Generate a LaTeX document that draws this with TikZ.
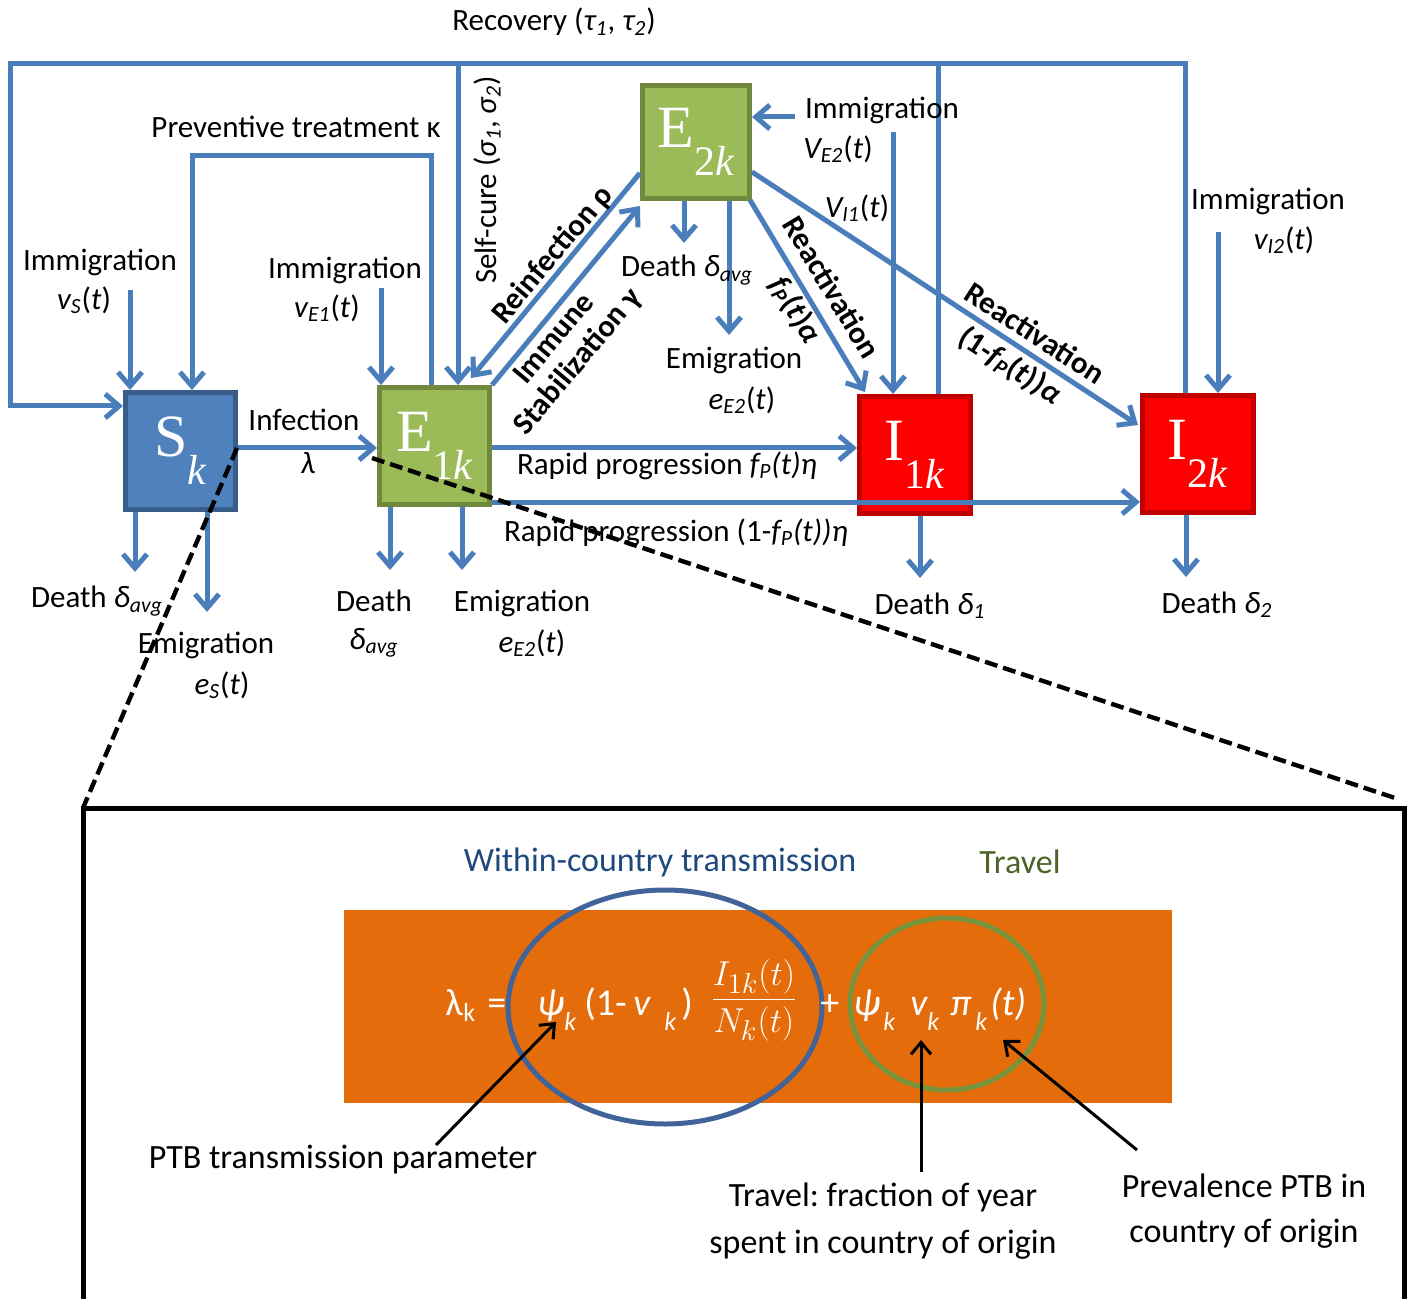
\documentclass[tikz,border=0pt]{standalone}
\usepackage{fontspec}
\setmainfont{Carlito}
\newfontfamily\boxfont{Liberation Serif}
\usetikzlibrary{arrows.meta,calc}
\frenchspacing

\definecolor{flowblue}{HTML}{4A7EBB}
\definecolor{sfill}{HTML}{4F81BD}
\definecolor{sline}{HTML}{385D8A}
\definecolor{efill}{HTML}{9BBB59}
\definecolor{eline}{HTML}{71893F}
\definecolor{ifill}{HTML}{FF0000}
\definecolor{iline}{HTML}{C00000}
\definecolor{panelorange}{HTML}{E46C0A}
\definecolor{ellblue}{HTML}{40649A}
\definecolor{ellgreen}{HTML}{77933C}
\definecolor{titleblue}{HTML}{1F497D}
\definecolor{titlegreen}{HTML}{4F6228}

\begin{document}
\begin{tikzpicture}[x=0.5pt,y=-0.5pt,
  flow/.style={draw=flowblue,line width=2.5pt,-{Straight Barb[length=7pt,width=12pt]}},
  link/.style={draw=flowblue,line width=2.5pt},
  comp/.style={draw,line width=2.5pt,inner sep=0pt,text=white,
    font=\boxfont\fontsize{30}{30}\selectfont},
  sbox/.style={comp,fill=sfill,draw=sline,minimum width=55pt,minimum height=58.5pt},
  ebox/.style={comp,fill=efill,draw=eline,minimum width=55pt,minimum height=58.5pt},
  ibox/.style={comp,fill=ifill,draw=iline,minimum width=55.5pt,minimum height=58.5pt},
  lbl/.style={inner sep=1pt,font=\fontsize{15.5}{18}\selectfont},
  blbl/.style={inner sep=1pt,font=\fontsize{15.5}{18}\selectfont\bfseries},
  big/.style={inner sep=1pt,font=\fontsize{17}{20}\selectfont},
  fw/.style={inner sep=0pt,anchor=base west,text=white,font=\fontsize{19}{22}\selectfont},
  fs/.style={inner sep=0pt,anchor=base west,text=white,font=\fontsize{13}{15}\selectfont\itshape},
  pointer/.style={draw=black,line width=1.5pt,-{Straight Barb[length=6pt,width=10pt]}},
  zoomline/.style={draw=black,line width=2.2pt,dash pattern=on 6.5pt off 3pt},
]
\fill[white] (0,0) rectangle (1408,1299);
\useasboundingbox (0,0) rectangle (1408,1299);

% compartments
\newcommand\subk[2]{#1\raisebox{-14pt}{\fontsize{21}{21}\selectfont #2}}
\node[sbox] (S)  at (180.5,451) {\subk{S}{\textit{k}}};
\node[ebox] (E1) at (434.5,446) {\subk{E}{1\textit{k}}};
\node[ebox,minimum width=53.5pt,minimum height=56.5pt] (E2) at (696,142) {\subk{E}{2\textit{k}}};
\node[ibox] (I1) at (915,455) {\subk{I}{1\textit{k}}};
\node[ibox] (I2) at (1198,454) {\subk{I}{2\textit{k}}};

% free ends of inflows and outflows
\coordinate (rtop) at (10,64);
\coordinate (rjoin) at (938,64);
\coordinate (scure) at (458,64);
\coordinate (ptc) at (192,156);
\coordinate (inS) at (130,290);
\coordinate (inE1) at (381,288);
\coordinate (inE2) at (795,117);
\coordinate (inI1) at (893,132);
\coordinate (inI2) at (1218,232);
\coordinate (outSd) at (135,572);
\coordinate (outSe) at (207,612);
\coordinate (outE1d) at (390,570);
\coordinate (outE1e) at (462,570);
\coordinate (outE2d) at (684,243);
\coordinate (outE2e) at (729,335);
\coordinate (outI1d) at (920,578);
\coordinate (outI2d) at (1186,577);

% recovery and self-cure
\draw[flow] ($(I1.north)+(23,0)$) |- (rtop) |- ($(S.west)+(0,-45)$);
\draw[link] ($(I2.north)+(-13,0)$) |- (rjoin);
\draw[flow] (scure) -- ($(E1.north)+(23.5,0)$);
% preventive treatment
\draw[flow] ($(E1.north)+(-3.5,0)$) |- (ptc) -- ($(S.north)+(11.5,0)$);

% immigration
\draw[flow] (inS) -- (inS |- S.north);
\draw[flow] (inE1) -- (inE1 |- E1.north);
\draw[flow] (inE2) -- (inE2 -| E2.east);
\draw[flow] (inI1) -- (inI1 |- I1.north);
\draw[flow] (inI2) -- (inI2 |- I2.north);

% transitions
\draw[flow] ($(S.east)+(0,-3)$) -- ($(E1.west)+(0,2)$);
\draw[flow] ($(E2.west)+(0,31)$) -- ($(E1.north east)+(-21,-7)$);
\draw[flow] (E1.north east) -- ($(E2.south west)+(0,5)$);
\draw[flow] ($(E2.south east)+(-2,-1)$) -- ($(I1.north west)+(8,-2)$);
\draw[flow] ($(E2.east)+(0,30)$) -- ($(I2.west)+(-2,-29)$);
\draw[flow] ($(E1.east)+(0,2)$) -- ($(I1.west)+(0,-7)$);
\draw[flow] ($(E1.east)+(0,56)$) -- ($(I2.west)+(0,48)$);

% deaths and emigration
\draw[flow] (outSd |- S.south) -- (outSd);
\draw[flow] (outSe |- S.south) -- (outSe);
\draw[flow] (outE1d |- E1.south) -- (outE1d);
\draw[flow] (outE1e |- E1.south) -- (outE1e);
\draw[flow] (outE2d |- E2.south) -- (outE2d);
\draw[flow] (outE2e |- E2.south) -- (outE2e);
\draw[flow] (outI1d |- I1.south) -- (outI1d);
\draw[flow] (outI2d |- I2.south) -- (outI2d);

% labels of the flows
\node[lbl] (recov) at (554,22) {Recovery (\textit{τ\textsubscript{1}}, \textit{τ\textsubscript{2}})};
\node[lbl] (prev) at (296,127) {Preventive treatment κ};
\node[lbl,rotate=90] (selfc) at (487,180) {Self-cure (\textit{σ\textsubscript{1}}, \textit{σ\textsubscript{2}})};
\node[lbl] (imSa) at (100,262) {Immigration};
\node[lbl] (imSb) at (84,300) {\textit{v\textsubscript{S}}(\textit{t})};
\node[lbl] (imE1a) at (345,270) {Immigration};
\node[lbl] (imE1b) at (327,308) {\textit{v\textsubscript{E1}}(\textit{t})};
\node[lbl] (infa) at (304,420) {Infection};
\node[lbl] (infb) at (308,463) {\textit{λ}};
\node[blbl,rotate=50] (reinf) at (553,255) {Reinfection ρ};
\node[blbl,rotate=50] (immu) at (553,338) {Immune};
\node[blbl,rotate=50] (stab) at (578,362) {Stabilization γ};
\node[lbl] (dE2) at (687,270) {Death \textit{δ\textsubscript{avg}}};
\node[lbl] (emE2a) at (734,360) {Emigration};
\node[lbl] (emE2b) at (742,400) {\textit{e\textsubscript{E2}}(\textit{t})};
\node[lbl] (imE2a) at (882,110) {Immigration};
\node[lbl] (imE2b) at (838,149) {\textit{V\textsubscript{E2}}(\textit{t})};
\node[lbl] (imI1) at (857,208) {\textit{V\textsubscript{I1}}(\textit{t})};
\node[blbl,rotate=-59] (reac1a) at (832,287) {Reactivation};
\node[blbl,rotate=-59] (reac1b) at (795,310) {\textit{f\textsubscript{P}}(\textit{t})\textit{α}};
\node[blbl,rotate=-33] (reac2a) at (1035,333) {Reactivation};
\node[blbl,rotate=-33] (reac2b) at (1010,366) {(1-\textit{f\textsubscript{P}}(\textit{t}))\textit{α}};
\node[lbl] (imI2a) at (1268,201) {Immigration};
\node[lbl] (imI2b) at (1284,240) {\textit{v\textsubscript{I2}}(\textit{t})};
\node[lbl] (rp1) at (667,466) {Rapid progression \textit{f\textsubscript{P}(t)η}};
\node[lbl] (rp2) at (676,533) {Rapid progression (1-\textit{f\textsubscript{P}(t))η}};
\node[lbl] (dS) at (97,601) {Death \textit{δ\textsubscript{avg}}};
\node[lbl] (emSa) at (206,645) {Emigration};
\node[lbl] (emSb) at (222,685) {\textit{e\textsubscript{S}}(\textit{t})};
\node[lbl] (dE1a) at (374,601) {Death};
\node[lbl] (dE1b) at (374,643) {\textit{δ\textsubscript{avg}}};
\node[lbl] (emE1a) at (522,603) {Emigration};
\node[lbl] (emE1b) at (532,643) {\textit{e\textsubscript{E2}}(\textit{t})};
\node[lbl] (dI1) at (930,606) {Death \textit{δ\textsubscript{1}}};
\node[lbl] (dI2) at (1217,605) {Death \textit{δ\textsubscript{2}}};

% force of infection panel
\draw[black,line width=2.5pt] (83,1305) -- (83,808) -- (1404,808) -- (1404,1305);
\fill[panelorange] (344,910) rectangle (1172,1103);
\draw[ellblue,line width=2.5pt] (665,1007) ellipse [x radius=157, y radius=117];
\draw[ellgreen,line width=2.5pt] (947,1004) ellipse [x radius=97, y radius=86];
\node[big,text=titleblue] (wct) at (660,862) {Within-country transmission};
\node[big,text=titlegreen] (trv) at (1020,862) {Travel};

\node[fw] (f1) at (445,1015) {λ};
\node[fs,font=\fontsize{13}{15}\selectfont] (f1k) at (463,1021) {k};
\node[fw] (f2) at (487,1015) {=};
\node[fw] (f3) at (537,1015) {\textit{ψ}};
\node[fs] (f3k) at (564,1030) {k};
\node[fw] (f4) at (584,1015) {(1-};
\node[fw] (f5) at (633,1015) {\textit{v}};
\node[fs] (f5k) at (664,1030) {k};
\node[fw] (f6) at (681,1015) {)};
\node[fw,anchor=center] (f7) at (754,1000) {$\displaystyle\frac{I_{1k}(t)}{N_k(t)}$};
\node[fw] (f8) at (820,1015) {+};
\node[fw] (f9) at (853,1015) {\textit{ψ}};
\node[fs] (f9k) at (883,1030) {k};
\node[fw] (f10) at (910,1015) {\textit{v}};
\node[fs] (f10k) at (927,1030) {k};
\node[fw] (f11) at (950,1015) {\textit{π}};
\node[fs] (f11k) at (975,1030) {k};
\node[fw] (f12) at (990,1015) {\textit{(t)}};

\node[big] (ptb) at (343,1160) {PTB transmission parameter};
\node[big] (tf1) at (883,1197) {Travel: fraction of year};
\node[big] (tf2) at (883,1245) {spent in country of origin};
\node[big] (pv1) at (1244,1186) {Prevalence PTB in};
\node[big] (pv2) at (1244,1234) {country of origin};

\coordinate (p1s) at (436,1145);
\coordinate (p1e) at (556,1022);
\coordinate (p2s) at (921,1172);
\coordinate (p2e) at (921,1040);
\coordinate (p3s) at (1137,1150);
\coordinate (p3e) at (1003,1040);
\draw[pointer] (p1s) -- (p1e);
\draw[pointer] (p2s) -- (p2e);
\draw[pointer] (p3s) -- (p3e);

% zoom lines from the infection arrow to the panel
\coordinate (z1) at (237,448);
\coordinate (z2) at (372,458);
\coordinate (zl) at (83,808);
\coordinate (zr) at (1398,799);
\draw[zoomline] (z1) -- (zl);
\draw[zoomline] (z2) -- (zr);
\end{tikzpicture}
\end{document}
